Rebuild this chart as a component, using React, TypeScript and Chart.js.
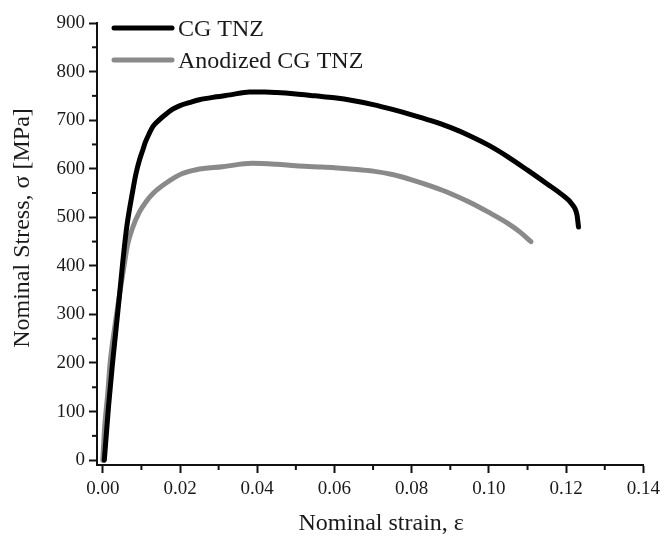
import React, { useEffect, useRef } from "react";
import { Chart, registerables } from "chart.js";

Chart.register(...registerables);

const cgStrain = [0.0004, 0.0015, 0.0025, 0.0035, 0.0044, 0.0052, 0.0062, 0.0077, 0.0086, 0.0095, 0.0103, 0.011, 0.012, 0.013, 0.0147, 0.016, 0.018, 0.02, 0.0224, 0.025, 0.0294, 0.033, 0.038, 0.042, 0.045, 0.05, 0.055, 0.06, 0.065, 0.07, 0.075, 0.08, 0.085, 0.09, 0.095, 0.1, 0.105, 0.11, 0.115, 0.119, 0.1215, 0.1228, 0.1232];
const cgStress = [0, 112, 198, 275, 345, 410, 480, 552, 590, 618, 637, 654, 672, 687, 701, 710, 722, 730, 736, 742, 748, 752, 758, 758, 757, 754, 750, 746, 740, 732, 722, 711, 699, 685, 668, 648, 624, 597, 569, 546, 527, 505, 480];

const anStrain = [0, 0.0005, 0.0013, 0.0019, 0.0031, 0.0044, 0.0057, 0.0064, 0.0077, 0.0095, 0.0113, 0.013, 0.0165, 0.0206, 0.0242, 0.031, 0.0387, 0.045, 0.05, 0.055, 0.06, 0.065, 0.07, 0.075, 0.08, 0.085, 0.09, 0.095, 0.1, 0.105, 0.108, 0.1109];
const anStress = [0, 70, 138, 200, 274, 345, 410, 443, 478, 511, 533, 549, 571, 590, 598, 604, 611, 609, 606, 604, 602, 599, 595, 588, 577, 564, 549, 531, 510, 487, 470, 450];

const xMajorTicks = [0, 0.02, 0.04, 0.06, 0.08, 0.1, 0.12, 0.14];
const xMinorTicks = [0.01, 0.03, 0.05, 0.07, 0.09, 0.11, 0.13];
const yMajorTicks = [0, 100, 200, 300, 400, 500, 600, 700, 800, 900];
const yMinorTicks = [50, 150, 250, 350, 450, 550, 650, 750, 850];

const seriesLabels = ["CG TNZ", "Anodized CG TNZ"];
const seriesColors = ["#000000", "#8a8a8a"];
const xTitle = "Nominal strain, \u03b5";
const yTitle = "Nominal Stress, \u03c3 [MPa]";

const SERIF = "'Liberation Serif', 'Times New Roman', serif";
const TEXT = "#1a1a1a";

const decorPlugin = {
  id: "decor",
  afterDraw(chart: any) {
    const { ctx, chartArea, scales } = chart;
    const xs = scales.x;
    const ys = scales.y;
    ctx.save();
    // minor ticks
    ctx.strokeStyle = "#111";
    ctx.lineWidth = 2;
    for (const v of xMinorTicks) {
      const px = xs.getPixelForValue(v);
      ctx.beginPath();
      ctx.moveTo(px, chartArea.bottom);
      ctx.lineTo(px, chartArea.bottom + 5);
      ctx.stroke();
    }
    for (const v of yMinorTicks) {
      const py = ys.getPixelForValue(v);
      ctx.beginPath();
      ctx.moveTo(chartArea.left, py);
      ctx.lineTo(chartArea.left - 5, py);
      ctx.stroke();
    }
    // legend
    ctx.font = `24px ${SERIF}`;
    ctx.textBaseline = "middle";
    ctx.textAlign = "left";
    chart.data.datasets.forEach((ds: any, i: number) => {
      const y = chartArea.top + 5 + i * 32;
      ctx.strokeStyle = ds.borderColor;
      ctx.lineWidth = 5;
      ctx.lineCap = "round";
      ctx.beginPath();
      ctx.moveTo(chartArea.left + 17, y);
      ctx.lineTo(chartArea.left + 75, y);
      ctx.stroke();
      ctx.fillStyle = TEXT;
      ctx.fillText(ds.label, chartArea.left + 81, y + 2);
    });
    // axis titles
    ctx.fillStyle = TEXT;
    ctx.font = `24px ${SERIF}`;
    ctx.textAlign = "center";
    ctx.textBaseline = "middle";
    ctx.fillText(xTitle, (chartArea.left + chartArea.right) / 2 + 11, 524);
    ctx.translate(23, (chartArea.top + chartArea.bottom) / 2 - 16);
    ctx.rotate(-Math.PI / 2);
    ctx.fillText(yTitle, 0, 0);
    ctx.restore();
  },
};

export default function App() {
  const ref = useRef<HTMLCanvasElement | null>(null);
  useEffect(() => {
    if (!ref.current) return;
    const chart = new Chart(ref.current, {
      type: "line",
      data: {
        datasets: [
          {
            label: seriesLabels[0],
            data: cgStrain.map((x, i) => ({ x, y: cgStress[i] })),
            borderColor: seriesColors[0],
            borderWidth: 5,
            pointRadius: 0,
            cubicInterpolationMode: "monotone",
            borderCapStyle: "round",
            borderJoinStyle: "round",
            fill: false,
          },
          {
            label: seriesLabels[1],
            data: anStrain.map((x, i) => ({ x, y: anStress[i] })),
            borderColor: seriesColors[1],
            borderWidth: 5,
            pointRadius: 0,
            cubicInterpolationMode: "monotone",
            borderCapStyle: "round",
            borderJoinStyle: "round",
            fill: false,
          },
        ],
      },
      options: {
        responsive: false,
        animation: false,
        layout: { padding: { top: 23, right: 19, left: 0, bottom: 0 } },
        plugins: { legend: { display: false }, tooltip: { enabled: false } },
        scales: {
          x: {
            type: "linear",
            min: -0.0015,
            max: 0.14,
            bounds: "data",
            afterBuildTicks: (s: any) => {
              s.ticks = xMajorTicks.map((v) => ({ value: v }));
            },
            afterFit: (s: any) => {
              s.height = 73;
            },
            ticks: {
              autoSkip: false,
              maxRotation: 0,
              padding: 5,
              color: TEXT,
              font: { family: SERIF, size: 19 },
              callback: (v: any) => Number(v).toFixed(2),
            },
            grid: {
              drawOnChartArea: false,
              drawTicks: true,
              tickLength: 8,
              tickWidth: 2,
              tickColor: "#111",
            },
            border: { display: true, color: "#111", width: 2 },
            title: { display: false },
          },
          y: {
            type: "linear",
            min: -10,
            max: 900,
            bounds: "data",
            afterBuildTicks: (s: any) => {
              s.ticks = yMajorTicks.map((v) => ({ value: v }));
            },
            afterFit: (s: any) => {
              s.width = 97;
            },
            ticks: {
              autoSkip: false,
              padding: 4,
              color: TEXT,
              font: { family: SERIF, size: 19 },
              callback: (v: any) => String(v),
            },
            grid: {
              drawOnChartArea: false,
              drawTicks: true,
              tickLength: 8,
              tickWidth: 2,
              tickColor: "#111",
            },
            border: { display: true, color: "#111", width: 2 },
            title: { display: false },
          },
        },
      },
      plugins: [decorPlugin],
    } as any);
    return () => chart.destroy();
  }, []);
  return (
    <div style={{ position: "absolute", left: 0, top: 0, width: 665, height: 538, background: "#fff" }}>
      <canvas ref={ref} width={665} height={538} />
    </div>
  );
}
